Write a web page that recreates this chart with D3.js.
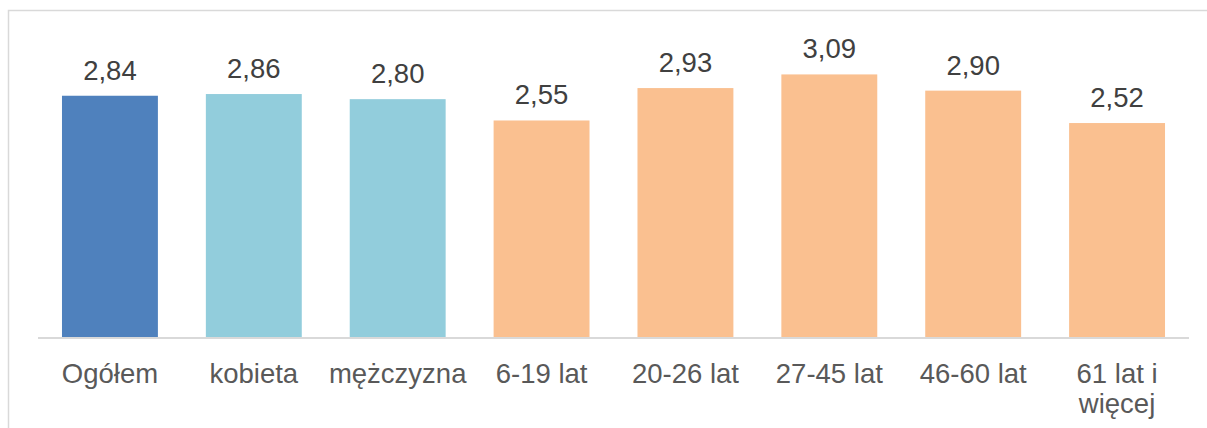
<!DOCTYPE html>
<meta charset="utf-8">
<head>
    <style>
        body { margin: 0; background: #fff; }
        text { font-family: Arial, "Liberation Sans", sans-serif; }
    </style>
    <script src="https://d3js.org/d3.v7.min.js"></script>
</head>
<body>
    <div id="chart"></div>
    <script>
        // data
        var categories = ["Ogółem", "kobieta", "mężczyzna", "6-19 lat", "20-26 lat", "27-45 lat", "46-60 lat", "61 lat i więcej"];
        var values = [2.84, 2.86, 2.80, 2.55, 2.93, 3.09, 2.90, 2.52];
        var groups = ["all", "sex", "sex", "age", "age", "age", "age", "age"];

        var colors = { all: "#4f81bd", sex: "#92cddc", age: "#fac090" };

        var width = 1207, height = 428;
        var x0 = 38, x1 = 1189, baseY = 338;
        var fontSize = 27.5;

        var svg = d3.select("#chart")
            .append("svg")
            .attr("width", width)
            .attr("height", height);

        // outer chart frame (right and bottom edges fall outside the picture)
        svg.append("rect")
            .attr("x", 8.5)
            .attr("y", 10.5)
            .attr("width", 1300)
            .attr("height", 500)
            .attr("fill", "none")
            .attr("stroke", "#d9d9d9")
            .attr("stroke-width", 1.5);

        var x = d3.scaleBand()
            .domain(categories)
            .range([x0, x1])
            .paddingInner(1 / 3)
            .paddingOuter(1 / 6);

        var y = d3.scaleLinear()
            .domain([0, 3.5])
            .range([baseY, baseY - 3.5 * 85.3]);

        var fmt = d => d3.format(".2f")(d).replace(".", ",");

        svg.selectAll(".bar")
            .data(values)
            .enter()
            .append("rect")
            .attr("class", "bar")
            .attr("x", (d, i) => x(categories[i]))
            .attr("y", d => y(d))
            .attr("width", x.bandwidth())
            .attr("height", d => y(0) - y(d))
            .attr("fill", (d, i) => colors[groups[i]]);

        svg.selectAll(".val")
            .data(values)
            .enter()
            .append("text")
            .attr("class", "val")
            .attr("x", (d, i) => x(categories[i]) + x.bandwidth() / 2)
            .attr("y", d => y(d) - 16)
            .attr("text-anchor", "middle")
            .attr("font-size", fontSize)
            .attr("fill", "#404040")
            .text(fmt);

        // x axis
        var axis = svg.append("g")
            .attr("transform", "translate(0," + baseY + ")")
            .call(d3.axisBottom(x).tickSize(0).tickPadding(0));
        axis.select(".domain")
            .attr("stroke", "#d9d9d9")
            .attr("stroke-width", 2)
            .attr("d", "M" + x0 + ",0H" + x1);
        axis.selectAll(".tick text")
            .attr("font-size", fontSize)
            .attr("fill", "#595959")
            .attr("dy", null)
            .attr("y", 45)
            .each(function (d) {
                wrap(d3.select(this), x.step() - 4);
            });

        function wrap(t, maxW) {
            var words = t.text().split(" ");
            t.text(null);
            var line = [], lineNo = 0;
            var tspan = t.append("tspan").attr("x", 0).attr("y", 45);
            words.forEach(function (w) {
                line.push(w);
                tspan.text(line.join(" "));
                if (tspan.node().getComputedTextLength() > maxW && line.length > 1) {
                    line.pop();
                    tspan.text(line.join(" "));
                    line = [w];
                    lineNo++;
                    tspan = t.append("tspan").attr("x", 0).attr("y", 45 + lineNo * 30).text(w);
                }
            });
        }
    </script>
</body>
